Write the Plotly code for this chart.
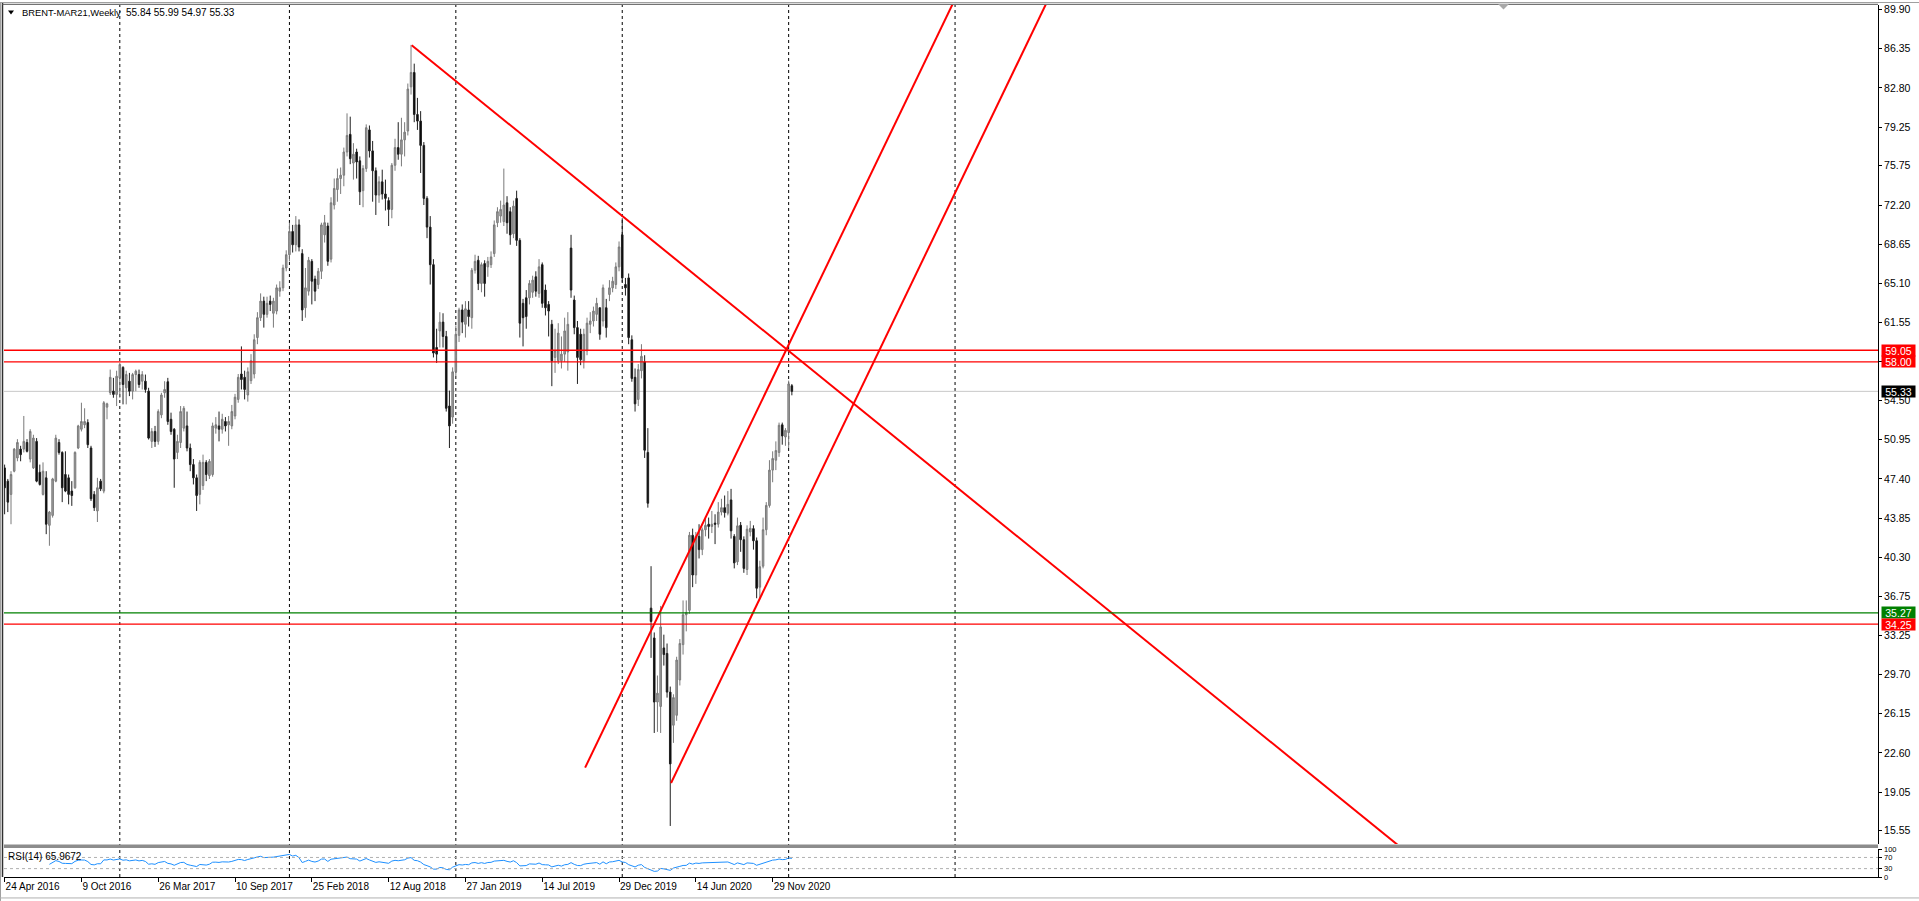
import numpy as np
import pandas as pd
import plotly.graph_objects as go

# ---------------- data ----------------
symbol_text = "BRENT-MAR21,Weekly"
ohlc_text = "55.84 55.99 54.97 55.33"
rsi_label = "RSI(14) 65.9672"
first_week = "2016-04-24"

opens = [48.4, 47.2, 46.0, 48.1, 49.3, 50.1, 50.1, 50.7, 49.2, 48.4,
         50.8, 48.0, 46.0, 47.5, 43.2, 44.1, 47.2, 50.7, 49.8, 47.8,
         47.5, 46.3, 46.6, 50.2, 51.9, 52.3, 52.5, 50.2, 46.0, 44.5,
         47.2, 46.3, 53.9, 55.2, 55.35, 55.05, 56.55, 57.5, 55.65, 56.25,
         55.35, 56.85, 56.85, 56.25, 56.25, 55.35, 50.8, 51.7, 50.8, 53.2,
         55.2, 56.2, 52.8, 51.9, 49.8, 50.7, 52.0, 52.2, 50.2, 48.7,
         47.5, 46.0, 46.8, 48.9, 47.7, 47.8, 52.0, 52.2, 51.9, 52.6,
         52.3, 52.2, 53.1, 54.6, 56.9, 56.6, 55.0, 56.3, 56.9, 60.2,
         62.0, 63.5, 62.3, 63.5, 62.4, 62.6, 64.4, 64.7, 66.5, 67.7,
         69.8, 68.6, 70.4, 67.8, 62.9, 64.4, 67.1, 65.5, 65.0, 66.2,
         69.5, 70.3, 67.3, 72.2, 73.6, 74.6, 74.9, 77.0, 78.6, 76.0,
         77.0, 76.2, 73.5, 75.5, 79.0, 77.1, 75.3, 73.1, 74.3, 73.2,
         72.6, 71.8, 75.8, 77.4, 76.8, 78.1, 78.9, 82.9, 84.2, 80.4,
         79.8, 77.6, 72.8, 70.2, 66.8, 59.3, 60.8, 61.6, 60.3, 54.0,
         53.0, 57.1, 60.4, 62.7, 61.4, 62.7, 62.0, 66.3, 67.2, 65.1,
         66.9, 66.6, 66.8, 67.8, 70.6, 71.2, 70.7, 72.4, 71.6, 69.6,
         72.8, 69.0, 63.3, 63.8, 63.8, 64.3, 65.7, 64.2, 66.8, 64.5,
         63.2, 61.4, 58.4, 58.1, 58.1, 58.7, 58.9, 68.3, 63.6, 61.1,
         60.5, 58.1, 59.0, 61.4, 61.7, 62.3, 62.9, 61.7, 62.9, 64.1,
         64.7, 65.0, 66.6, 69.5, 65.0, 65.6, 60.0, 56.6, 54.6, 57.2,
         58.0, 49.8, 35.7, 33.0, 27.2, 26.8, 32.1, 31.6, 28.1, 25.1,
         26.0, 29.2, 32.4, 35.1, 35.5, 42.3, 38.7, 42.2, 41.0, 42.8,
         43.3, 43.1, 43.4, 43.3, 44.4, 44.8, 44.3, 45.5, 42.2, 39.9,
         43.2, 41.9, 39.2, 42.6, 42.9, 41.8, 37.6, 39.5, 42.8, 45.0,
         48.2, 49.1, 49.8, 52.3, 51.2, 51.6, 55.84]
highs = [48.7, 47.4, 48.1, 50.2, 51.0, 50.4, 53.1, 51.0, 51.9, 51.4,
         51.1, 48.7, 48.9, 48.1, 44.5, 47.5, 51.4, 51.0, 49.9, 49.9,
         47.8, 47.2, 49.9, 52.3, 54.3, 53.8, 52.8, 50.4, 46.3, 47.5,
         47.4, 54.45, 54.3, 57.3, 56.55, 57.2, 57.9, 57.6, 57.2, 57.0,
         57.0, 57.3, 57.3, 57.16, 56.85, 55.65, 52.0, 52.2, 53.7, 55.2,
         56.25, 56.55, 53.4, 52.0, 51.4, 54.0, 54.0, 53.5, 50.6, 49.2,
         47.8, 49.1, 49.6, 49.1, 49.2, 52.5, 53.0, 53.5, 53.3, 53.0,
         53.1, 54.1, 55.1, 56.9, 59.4, 57.2, 57.5, 58.7, 60.5, 62.5,
         64.2, 63.9, 63.9, 64.0, 63.8, 65.0, 65.3, 66.8, 68.1, 70.6,
         70.4, 71.2, 70.9, 68.2, 66.5, 67.5, 67.3, 65.8, 66.5, 70.6,
         71.3, 70.6, 72.9, 74.6, 75.5, 75.6, 77.4, 80.5, 80.2, 77.8,
         77.3, 76.6, 75.8, 79.5, 79.4, 78.0, 75.6, 74.8, 75.4, 74.5,
         72.9, 76.0, 78.2, 79.7, 80.1, 79.7, 83.2, 86.7, 85.0, 81.9,
         80.7, 77.9, 73.0, 71.2, 67.3, 61.0, 62.5, 62.4, 60.8, 55.4,
         57.5, 61.3, 62.9, 63.2, 63.5, 63.5, 66.5, 67.7, 67.6, 67.0,
         67.2, 67.5, 68.0, 70.8, 72.0, 72.6, 75.5, 73.0, 72.0, 72.6,
         73.5, 69.2, 63.7, 64.5, 65.4, 65.8, 66.2, 67.3, 67.0, 65.0,
         63.5, 61.8, 61.0, 61.5, 60.3, 62.0, 62.5, 69.5, 64.0, 61.7,
         61.0, 61.0, 62.0, 62.5, 63.0, 63.8, 62.9, 65.0, 63.7, 65.4,
         65.7, 67.0, 68.9, 71.0, 65.6, 66.0, 60.4, 57.4, 57.8, 59.6,
         58.6, 52.0, 39.5, 33.5, 29.6, 35.9, 33.3, 32.5, 28.6, 27.9,
         31.3, 32.9, 36.4, 36.4, 42.6, 42.9, 42.6, 43.3, 43.0, 43.9,
         43.9, 44.5, 44.2, 45.3, 45.6, 45.9, 46.3, 46.5, 42.4, 43.9,
         43.5, 42.2, 43.2, 43.6, 43.2, 42.1, 40.0, 43.9, 45.3, 49.1,
         49.9, 50.8, 52.5, 52.5, 52.0, 56.3, 55.99]
lows = [44.2, 44.4, 43.3, 48.0, 49.0, 49.0, 49.8, 49.8, 48.9, 48.3,
        47.1, 46.8, 45.9, 42.4, 41.35, 43.9, 47.1, 49.6, 45.3, 46.2,
        45.1, 44.96, 46.5, 50.1, 51.7, 52.0, 50.2, 45.4, 44.5, 43.5,
        46.3, 46.1, 52.8, 55.0, 54.75, 54.0, 54.75, 54.15, 54.15, 54.9,
        54.6, 55.35, 55.65, 55.5, 55.2, 50.97, 50.2, 50.3, 50.5, 52.9,
        54.75, 52.3, 51.4, 46.6, 49.2, 50.2, 51.7, 49.9, 48.1, 46.9,
        44.5, 45.1, 46.4, 47.2, 47.4, 47.6, 51.5, 50.8, 51.5, 51.7,
        50.4, 51.9, 52.8, 54.3, 55.5, 54.6, 54.4, 56.0, 56.5, 59.6,
        61.7, 61.1, 62.0, 62.6, 61.1, 62.3, 63.9, 64.4, 66.2, 67.1,
        67.9, 68.0, 68.0, 61.7, 62.0, 64.0, 63.2, 63.5, 64.6, 65.5,
        68.8, 66.7, 67.0, 71.8, 72.5, 73.2, 73.9, 76.6, 75.9, 74.5,
        74.6, 72.2, 72.0, 75.2, 76.5, 72.5, 71.3, 72.4, 72.7, 71.7,
        70.3, 71.0, 75.3, 76.3, 75.7, 76.6, 78.5, 82.2, 79.7, 79.0,
        75.1, 72.2, 69.2, 65.0, 58.4, 57.9, 59.3, 59.3, 53.5, 50.2,
        52.4, 56.7, 59.8, 60.6, 60.2, 61.2, 61.0, 66.0, 64.5, 64.3,
        63.9, 65.7, 66.5, 67.5, 70.2, 70.6, 70.3, 69.6, 68.6, 69.2,
        68.5, 60.2, 59.4, 61.0, 63.2, 63.8, 63.9, 63.8, 62.9, 62.2,
        60.3, 55.8, 57.0, 57.8, 57.4, 58.0, 57.2, 63.8, 60.5, 56.0,
        57.7, 57.4, 58.6, 60.6, 61.2, 61.7, 60.0, 61.2, 60.2, 63.5,
        64.3, 64.6, 66.2, 65.2, 64.0, 59.6, 56.2, 53.5, 54.0, 56.5,
        49.3, 44.8, 31.2, 24.4, 24.5, 24.4, 30.5, 27.6, 15.98, 23.5,
        25.5, 28.7, 31.5, 33.6, 35.2, 37.6, 37.9, 40.2, 40.5, 42.2,
        42.0, 42.5, 41.5, 43.0, 44.1, 43.9, 44.1, 42.0, 39.3, 39.6,
        40.8, 38.9, 38.7, 42.2, 41.0, 36.6, 36.5, 39.3, 42.3, 44.8,
        47.1, 48.2, 49.4, 50.5, 50.4, 50.2, 54.97]
closes = [46.6, 45.3, 47.8, 50.1, 50.7, 49.6, 50.8, 49.9, 51.7, 51.1,
          47.2, 46.9, 48.1, 43.3, 44.4, 47.4, 51.1, 49.8, 46.6, 46.3,
          46.0, 45.9, 49.8, 52.2, 52.6, 52.6, 50.5, 45.6, 44.8, 46.6,
          46.5, 54.3, 54.2, 56.6, 55.05, 56.7, 57.76, 55.95, 56.85, 55.35,
          56.85, 57.16, 55.95, 56.85, 55.5, 51.1, 51.7, 50.8, 53.5, 55.0,
          55.5, 52.6, 51.7, 49.2, 50.8, 53.5, 53.8, 50.2, 48.7, 47.5,
          45.9, 48.9, 48.9, 47.8, 49.0, 52.2, 52.3, 51.9, 52.8, 52.2,
          52.6, 53.5, 54.8, 56.6, 56.4, 55.5, 57.1, 58.1, 60.0, 62.0,
          63.5, 62.3, 63.3, 63.2, 63.5, 64.7, 64.7, 66.5, 67.7, 69.8,
          68.6, 70.4, 68.4, 62.7, 64.7, 67.2, 65.3, 64.4, 66.2, 70.4,
          70.6, 67.1, 72.4, 73.7, 74.6, 74.9, 77.0, 78.5, 76.4, 76.8,
          76.1, 73.4, 75.5, 79.2, 77.1, 75.3, 73.1, 74.3, 73.2, 72.8,
          71.8, 75.8, 77.4, 76.8, 78.1, 78.8, 82.7, 84.2, 80.4, 79.8,
          77.6, 72.8, 70.2, 66.8, 58.8, 58.7, 61.6, 60.3, 53.8, 52.2,
          57.1, 60.5, 62.7, 61.6, 62.8, 62.1, 66.3, 67.1, 65.1, 66.8,
          65.1, 67.1, 67.5, 70.4, 71.6, 71.8, 72.2, 70.6, 69.5, 72.1,
          69.0, 61.5, 62.0, 62.1, 65.1, 65.4, 64.4, 66.6, 63.3, 62.9,
          62.6, 58.1, 59.0, 60.6, 58.7, 60.8, 61.4, 64.5, 61.1, 58.4,
          58.2, 60.5, 61.5, 61.7, 62.6, 63.3, 60.5, 64.7, 61.1, 64.7,
          65.3, 66.6, 68.4, 65.6, 64.7, 60.2, 56.5, 54.2, 57.3, 58.5,
          50.0, 45.2, 34.5, 27.2, 28.0, 34.0, 31.5, 28.1, 21.6, 27.6,
          31.0, 32.5, 35.1, 35.3, 42.3, 38.7, 42.2, 41.0, 42.8, 43.2,
          43.1, 43.3, 43.3, 44.4, 44.8, 44.35, 45.1, 42.7, 39.8, 43.15,
          41.9, 39.3, 42.85, 42.93, 41.8, 37.5, 39.45, 42.8, 45.0, 48.2,
          49.25, 49.97, 52.26, 51.29, 51.8, 56.0, 55.33]

price_ticks = [89.90, 86.35, 82.80, 79.25, 75.75, 72.20, 68.65, 65.10, 61.55,
               58.00, 54.50, 50.95, 47.40, 43.85, 40.30, 36.75, 33.25, 29.70,
               26.15, 22.60, 19.05, 15.55]
date_tick_weeks = [0, 24, 48, 72, 96, 120, 144, 168, 192, 216, 240]
date_tick_labels = ["24 Apr 2016", "9 Oct 2016", "26 Mar 2017", "10 Sep 2017",
                    "25 Feb 2018", "12 Aug 2018", "27 Jan 2019", "14 Jul 2019",
                    "29 Dec 2019", "14 Jun 2020", "29 Nov 2020"]
year_grid_weeks = [36, 89, 141, 193, 245, 297]
rsi_levels = [0, 30, 70, 100]
rsi_level_labels = ["0", "30", "70", "100"]

level_prices = [59.05, 58.00, 35.27, 34.25]
level_colors = ["#FF0000", "#FF0000", "#008000", "#FF0000"]
bid_price = 55.33

# drawn trend lines: (week index, price) anchors
trend_desc_weeks = [127.2, 445.0]
trend_desc_prices = [86.67, 11.99]
trend_up1_weeks = [181.4, 300.0]
trend_up1_prices = [21.26, 92.66]
trend_up2_weeks = [208.25, 330.0]
trend_up2_prices = [19.87, 93.16]

# ---------------- geometry ----------------
W, H = 1919, 901
PL, PR, PT, PB = 4, 1878, 3, 877      # plot area in pixels
MAIN_BOTTOM, RSI_TOP = 844, 849
Y_TOP, Y_BOT = 90.31, 14.34
PW, PH = PR - PL, PB - PT


def px_x(px):
    return (px - PL) / PW


def px_y(py):
    return (PB - py) / PH


base = pd.Timestamp(first_week)


def wk(w):
    return base + pd.Timedelta(days=7 * w)


dates = [wk(i) for i in range(len(closes))]

# RSI(14), Wilder smoothing of the closes
c = np.array(closes)
d = np.diff(c)
gain = np.where(d > 0, d, 0.0)
loss = np.where(d < 0, -d, 0.0)
n = 14
rsi = [None] * len(c)
ag, al = gain[:n].mean(), loss[:n].mean()
rsi[n] = 100 - 100 / (1 + ag / al) if al > 0 else 100
for i in range(n + 1, len(c)):
    ag = (ag * (n - 1) + gain[i - 1]) / n
    al = (al * (n - 1) + loss[i - 1]) / n
    rsi[i] = 100 - 100 / (1 + ag / al) if al > 0 else 100

FONT = "Liberation Sans"

fig = go.Figure()
fig.add_trace(go.Candlestick(
    x=dates, open=opens, high=highs, low=lows, close=closes,
    increasing=dict(line=dict(color="#7a7a7a", width=1), fillcolor="#a0a0a0"),
    decreasing=dict(line=dict(color="#1f1f1f", width=1), fillcolor="#000000"),
    whiskerwidth=0, hoverinfo="skip", showlegend=False,
    xaxis="x", yaxis="y"))

for wks, prs in [(trend_desc_weeks, trend_desc_prices),
                 (trend_up1_weeks, trend_up1_prices),
                 (trend_up2_weeks, trend_up2_prices)]:
    fig.add_trace(go.Scatter(x=[wk(w) for w in wks], y=prs, mode="lines",
                             line=dict(color="#FF0000", width=2),
                             hoverinfo="skip", showlegend=False,
                             xaxis="x", yaxis="y"))

fig.add_trace(go.Scatter(x=dates, y=rsi, mode="lines",
                         line=dict(color="#1E90FF", width=1),
                         hoverinfo="skip", showlegend=False,
                         xaxis="x", yaxis="y2"))

shapes = []
for w in year_grid_weeks:
    shapes.append(dict(type="line", xref="x", yref="paper", x0=wk(w), x1=wk(w),
                       y0=0, y1=1, line=dict(color="#000000", width=1, dash="dot"),
                       layer="below"))
for p, col in zip(level_prices, level_colors):
    shapes.append(dict(type="line", xref="paper", yref="y", x0=0, x1=1, y0=p, y1=p,
                       line=dict(color=col, width=1.3)))
shapes.append(dict(type="line", xref="paper", yref="y", x0=0, x1=1,
                   y0=bid_price, y1=bid_price, line=dict(color="#C8C8C8", width=1),
                   layer="below"))
for lv in (70, 30):
    shapes.append(dict(type="line", xref="paper", yref="y2", x0=0, x1=1, y0=lv, y1=lv,
                       line=dict(color="#B0B0B0", width=1, dash="dot")))
shapes.append(dict(type="rect", xref="paper", yref="paper",
                   x0=px_x(PL), x1=px_x(PR), y0=px_y(848), y1=px_y(844.5),
                   fillcolor="#8c8c8c", line=dict(width=0)))
shapes.append(dict(type="line", xref="paper", yref="paper", x0=px_x(0.5), x1=px_x(0.5),
                   y0=px_y(0), y1=px_y(901), line=dict(color="#a0a0a0", width=1)))
shapes.append(dict(type="line", xref="paper", yref="paper", x0=px_x(2.5), x1=px_x(2.5),
                   y0=px_y(1), y1=px_y(PB), line=dict(color="#303030", width=1.5)))
shapes.append(dict(type="line", xref="paper", yref="paper", x0=px_x(0), x1=px_x(W),
                   y0=px_y(0.5), y1=px_y(0.5), line=dict(color="#a0a0a0", width=1)))
shapes.append(dict(type="line", xref="paper", yref="paper", x0=px_x(2), x1=px_x(PR),
                   y0=px_y(2.3), y1=px_y(2.3), line=dict(color="#505050", width=1)))
shapes.append(dict(type="line", xref="paper", yref="paper", x0=px_x(0), x1=px_x(W),
                   y0=px_y(898), y1=px_y(898), line=dict(color="#b0b0b0", width=1)))
shapes.append(dict(type="path", xref="paper", yref="paper",
                   path=f"M {px_x(8)},{px_y(8.5)} L {px_x(14)},{px_y(8.5)} L {px_x(11)},{px_y(12.5)} Z",
                   fillcolor="#000000", line=dict(width=0)))
shapes.append(dict(type="path", xref="paper", yref="paper",
                   path=f"M {px_x(1498)},{px_y(2)} L {px_x(1509)},{px_y(2)} L {px_x(1503.5)},{px_y(7.5)} Z",
                   fillcolor="#a8a8a8", line=dict(width=0)))

annotations = [
    dict(xref="paper", yref="paper", x=px_x(20), y=px_y(11), text=symbol_text,
         xanchor="left", yanchor="middle", showarrow=False,
         font=dict(family=FONT, size=9.4, color="#000000")),
    dict(xref="paper", yref="paper", x=px_x(124), y=px_y(11), text=ohlc_text,
         xanchor="left", yanchor="middle", showarrow=False,
         font=dict(family=FONT, size=10, color="#000000")),
    dict(xref="paper", yref="paper", x=px_x(6), y=px_y(856), text=rsi_label,
         xanchor="left", yanchor="middle", showarrow=False,
         font=dict(family=FONT, size=10, color="#000000")),
]
# RSI scale labels in the narrow pane (small font so they do not collide)
for lv, lab in zip(rsi_levels, rsi_level_labels):
    annotations.append(dict(xref="paper", yref="y2", x=1, xshift=4, y=lv, text=lab,
                            xanchor="left", yanchor="middle", showarrow=False,
                            font=dict(family=FONT, size=7.5, color="#000000")))
for p, col in list(zip(level_prices, level_colors)) + [(bid_price, "#000000")]:
    annotations.append(dict(xref="paper", yref="y", x=1, y=p, xanchor="left",
                            yanchor="middle", xshift=3, text=f"{p:.2f}",
                            showarrow=False, width=33, height=11, borderpad=0,
                            bgcolor=col, align="center",
                            font=dict(family=FONT, size=10.5, color="#FFFFFF")))

main_dom0 = (PB - MAIN_BOTTOM) / PH
rsi_dom1 = (PB - RSI_TOP) / PH

fig.update_layout(
    width=W, height=H,
    margin=dict(l=PL, r=W - PR, t=PT, b=H - PB, pad=0),
    paper_bgcolor="#FFFFFF", plot_bgcolor="#FFFFFF",
    showlegend=False, hovermode=False,
    font=dict(family=FONT, size=10, color="#000000"),
    xaxis=dict(type="date", range=[wk(-0.19), wk(585.4)], anchor="y2",
               rangeslider=dict(visible=False), showgrid=False, zeroline=False,
               tickvals=[wk(w) for w in date_tick_weeks], ticktext=date_tick_labels,
               ticks="outside", ticklen=4, tickcolor="#000000",
               ticklabelposition="outside right",
               tickfont=dict(family=FONT, size=10, color="#000000"),
               showline=True, linecolor="#000000", linewidth=1, fixedrange=True),
    yaxis=dict(domain=[main_dom0, 1], range=[Y_BOT, Y_TOP], side="right", anchor="x",
               tickvals=price_ticks, ticktext=[f"{v:.2f}" for v in price_ticks],
               ticks="outside", ticklen=3, tickcolor="#000000",
               tickfont=dict(family=FONT, size=10.5, color="#000000"),
               showgrid=False, zeroline=False, showline=True,
               linecolor="#000000", linewidth=1, fixedrange=True),
    yaxis2=dict(domain=[0, rsi_dom1], range=[0, 100], side="right", anchor="x",
                tickvals=rsi_levels, showticklabels=False,
                ticks="outside", ticklen=3, tickcolor="#000000",
                showgrid=False, zeroline=False, showline=True,
                linecolor="#000000", linewidth=1, fixedrange=True),
    shapes=shapes, annotations=annotations,
)

fig.write_html("out.html", config={"displayModeBar": False, "staticPlot": True},
               post_script="document.body.style.margin='0';document.body.style.overflow='hidden';")
